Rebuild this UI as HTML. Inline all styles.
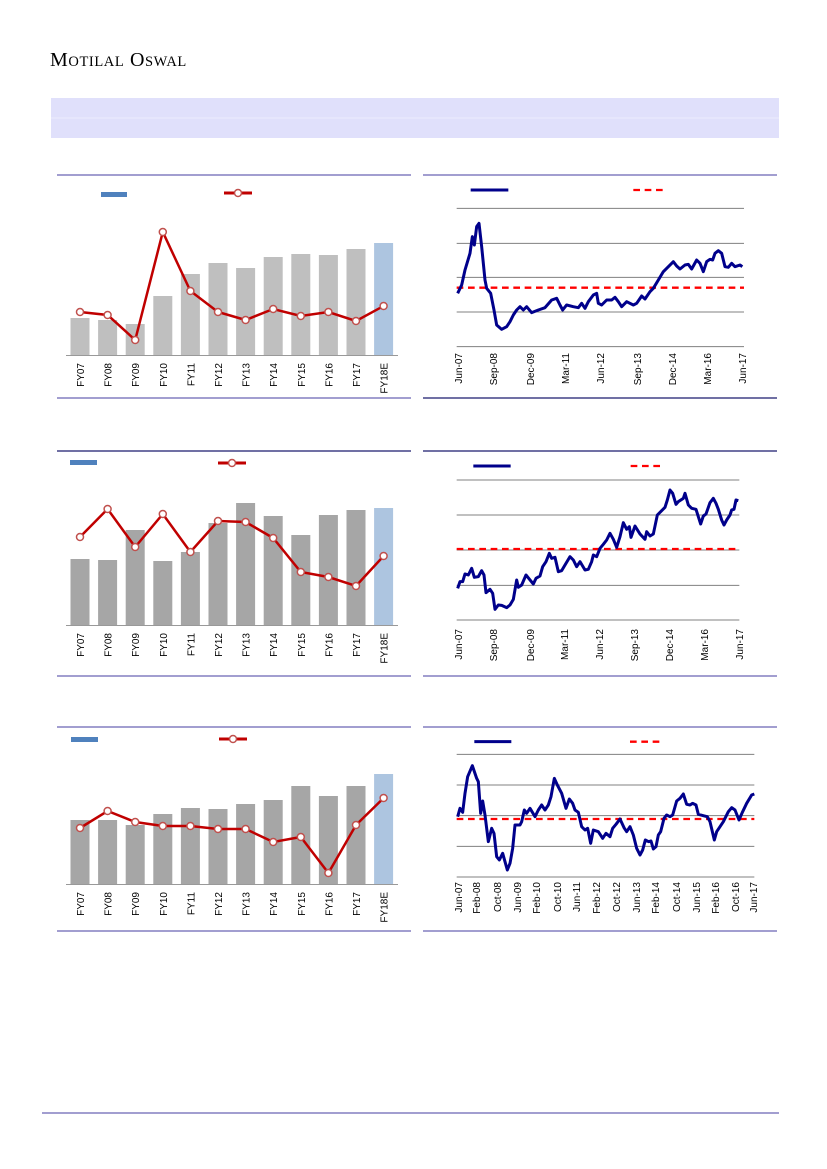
<!DOCTYPE html>
<html><head><meta charset="utf-8"><style>
html,body{margin:0;padding:0;background:#fff}
svg{display:block}
text{font-family:"Liberation Sans",sans-serif;font-size:10px;fill:#000}
</style></head><body>
<svg width="827" height="1169" viewBox="0 0 827 1169" xmlns="http://www.w3.org/2000/svg">
<text x="50" y="66" style="font-family:'Liberation Serif',serif;font-size:20px;letter-spacing:0.6px">M<tspan style="font-size:14.5px">OTILAL</tspan> O<tspan style="font-size:14.5px">SWAL</tspan></text>
<rect x="51" y="98" width="728" height="40" fill="#e0e0fb"/>
<line x1="51" y1="118" x2="779" y2="118" stroke="#ececfd" stroke-width="1"/>

<g stroke-width="1.3">
<line x1="57" y1="175" x2="411" y2="175" stroke="#6b63b5"/>
<line x1="423" y1="175" x2="777" y2="175" stroke="#6b63b5"/>
<line x1="57" y1="398" x2="411" y2="398" stroke="#6b63b5"/>
<line x1="423" y1="398" x2="777" y2="398" stroke="#1a1a6e"/>
<line x1="57" y1="451" x2="411" y2="451" stroke="#1a1a6e"/>
<line x1="423" y1="451" x2="777" y2="451" stroke="#1a1a6e"/>
<line x1="57" y1="676" x2="411" y2="676" stroke="#6b63b5"/>
<line x1="423" y1="676" x2="777" y2="676" stroke="#6b63b5"/>
<line x1="57" y1="727" x2="411" y2="727" stroke="#6b63b5"/>
<line x1="423" y1="727" x2="777" y2="727" stroke="#6b63b5"/>
<line x1="57" y1="931" x2="411" y2="931" stroke="#6b63b5"/>
<line x1="423" y1="931" x2="777" y2="931" stroke="#6b63b5"/>
<line x1="42" y1="1113" x2="779" y2="1113" stroke="#6b63b5"/>
</g>

<rect x="101" y="192" width="26" height="5" fill="#4f81bd"/>
<line x1="224" y1="193" x2="252" y2="193" stroke="#c00000" stroke-width="3"/>
<circle cx="238" cy="193" r="3.5" fill="#fff" stroke="#c0504d" stroke-width="1.5"/>
<g fill="#bfbfbf">
<rect x="70.5" y="318" width="19" height="37"/>
<rect x="98.1" y="320" width="19" height="35"/>
<rect x="125.7" y="324" width="19" height="31"/>
<rect x="153.3" y="296" width="19" height="59"/>
<rect x="180.9" y="274" width="19" height="81"/>
<rect x="208.5" y="263" width="19" height="92"/>
<rect x="236.1" y="268" width="19" height="87"/>
<rect x="263.7" y="257" width="19" height="98"/>
<rect x="291.3" y="254" width="19" height="101"/>
<rect x="318.9" y="255" width="19" height="100"/>
<rect x="346.5" y="249" width="19" height="106"/>
<rect x="374.1" y="243" width="19" height="112" fill="#adc5e0"/>
</g>
<line x1="66" y1="355.5" x2="398" y2="355.5" stroke="#999" stroke-width="1"/>
<polyline fill="none" stroke="#c00000" stroke-width="2.5" points="80,312 107.6,315 135.2,340 162.8,232 190.4,291 218,312 245.6,320 273.2,309 300.8,316 328.4,312 356,321 383.6,306"/>
<g fill="#fff" stroke="#c0504d" stroke-width="1.5">
<circle cx="80" cy="312" r="3.5"/><circle cx="107.6" cy="315" r="3.5"/><circle cx="135.2" cy="340" r="3.5"/><circle cx="162.8" cy="232" r="3.5"/><circle cx="190.4" cy="291" r="3.5"/><circle cx="218" cy="312" r="3.5"/><circle cx="245.6" cy="320" r="3.5"/><circle cx="273.2" cy="309" r="3.5"/><circle cx="300.8" cy="316" r="3.5"/><circle cx="328.4" cy="312" r="3.5"/><circle cx="356" cy="321" r="3.5"/><circle cx="383.6" cy="306" r="3.5"/>
</g>
<g text-anchor="end">
<text transform="translate(84,363) rotate(-90)">FY07</text>
<text transform="translate(111.6,363) rotate(-90)">FY08</text>
<text transform="translate(139.2,363) rotate(-90)">FY09</text>
<text transform="translate(166.8,363) rotate(-90)">FY10</text>
<text transform="translate(194.4,363) rotate(-90)">FY11</text>
<text transform="translate(222,363) rotate(-90)">FY12</text>
<text transform="translate(249.6,363) rotate(-90)">FY13</text>
<text transform="translate(277.2,363) rotate(-90)">FY14</text>
<text transform="translate(304.8,363) rotate(-90)">FY15</text>
<text transform="translate(332.4,363) rotate(-90)">FY16</text>
<text transform="translate(360,363) rotate(-90)">FY17</text>
<text transform="translate(387.6,363) rotate(-90)">FY18E</text>
</g>

<rect x="70" y="460" width="27" height="5" fill="#4f81bd"/>
<line x1="218" y1="463" x2="246" y2="463" stroke="#c00000" stroke-width="3"/>
<circle cx="232" cy="463" r="3.5" fill="#fff" stroke="#c0504d" stroke-width="1.5"/>
<g fill="#a6a6a6">
<rect x="70.5" y="559" width="19" height="66"/>
<rect x="98.1" y="560" width="19" height="65"/>
<rect x="125.7" y="530" width="19" height="95"/>
<rect x="153.3" y="561" width="19" height="64"/>
<rect x="180.9" y="552" width="19" height="73"/>
<rect x="208.5" y="523" width="19" height="102"/>
<rect x="236.1" y="503" width="19" height="122"/>
<rect x="263.7" y="516" width="19" height="109"/>
<rect x="291.3" y="535" width="19" height="90"/>
<rect x="318.9" y="515" width="19" height="110"/>
<rect x="346.5" y="510" width="19" height="115"/>
<rect x="374.1" y="508" width="19" height="117" fill="#adc5e0"/>
</g>
<line x1="66" y1="625.5" x2="398" y2="625.5" stroke="#999" stroke-width="1"/>
<polyline fill="none" stroke="#c00000" stroke-width="2.5" points="80,537 107.6,509 135.2,547 162.8,514 190.4,552 218,521 245.6,522 273.2,538 300.8,572 328.4,577 356,586 383.6,556"/>
<g fill="#fff" stroke="#c0504d" stroke-width="1.5">
<circle cx="80" cy="537" r="3.5"/><circle cx="107.6" cy="509" r="3.5"/><circle cx="135.2" cy="547" r="3.5"/><circle cx="162.8" cy="514" r="3.5"/><circle cx="190.4" cy="552" r="3.5"/><circle cx="218" cy="521" r="3.5"/><circle cx="245.6" cy="522" r="3.5"/><circle cx="273.2" cy="538" r="3.5"/><circle cx="300.8" cy="572" r="3.5"/><circle cx="328.4" cy="577" r="3.5"/><circle cx="356" cy="586" r="3.5"/><circle cx="383.6" cy="556" r="3.5"/>
</g>
<g text-anchor="end">
<text transform="translate(84,633) rotate(-90)">FY07</text>
<text transform="translate(111.6,633) rotate(-90)">FY08</text>
<text transform="translate(139.2,633) rotate(-90)">FY09</text>
<text transform="translate(166.8,633) rotate(-90)">FY10</text>
<text transform="translate(194.4,633) rotate(-90)">FY11</text>
<text transform="translate(222,633) rotate(-90)">FY12</text>
<text transform="translate(249.6,633) rotate(-90)">FY13</text>
<text transform="translate(277.2,633) rotate(-90)">FY14</text>
<text transform="translate(304.8,633) rotate(-90)">FY15</text>
<text transform="translate(332.4,633) rotate(-90)">FY16</text>
<text transform="translate(360,633) rotate(-90)">FY17</text>
<text transform="translate(387.6,633) rotate(-90)">FY18E</text>
</g>

<rect x="71" y="737" width="27" height="5" fill="#4f81bd"/>
<line x1="219" y1="739" x2="247" y2="739" stroke="#c00000" stroke-width="3"/>
<circle cx="233" cy="739" r="3.5" fill="#fff" stroke="#c0504d" stroke-width="1.5"/>
<g fill="#a6a6a6">
<rect x="70.5" y="820" width="19" height="64"/>
<rect x="98.1" y="820" width="19" height="64"/>
<rect x="125.7" y="825" width="19" height="59"/>
<rect x="153.3" y="814" width="19" height="70"/>
<rect x="180.9" y="808" width="19" height="76"/>
<rect x="208.5" y="809" width="19" height="75"/>
<rect x="236.1" y="804" width="19" height="80"/>
<rect x="263.7" y="800" width="19" height="84"/>
<rect x="291.3" y="786" width="19" height="98"/>
<rect x="318.9" y="796" width="19" height="88"/>
<rect x="346.5" y="786" width="19" height="98"/>
<rect x="374.1" y="774" width="19" height="110" fill="#adc5e0"/>
</g>
<line x1="66" y1="884.5" x2="398" y2="884.5" stroke="#999" stroke-width="1"/>
<polyline fill="none" stroke="#c00000" stroke-width="2.5" points="80,828 107.6,811 135.2,822 162.8,826 190.4,826 218,829 245.6,829 273.2,842 300.8,837 328.4,873 356,825 383.6,798"/>
<g fill="#fff" stroke="#c0504d" stroke-width="1.5">
<circle cx="80" cy="828" r="3.5"/><circle cx="107.6" cy="811" r="3.5"/><circle cx="135.2" cy="822" r="3.5"/><circle cx="162.8" cy="826" r="3.5"/><circle cx="190.4" cy="826" r="3.5"/><circle cx="218" cy="829" r="3.5"/><circle cx="245.6" cy="829" r="3.5"/><circle cx="273.2" cy="842" r="3.5"/><circle cx="300.8" cy="837" r="3.5"/><circle cx="328.4" cy="873" r="3.5"/><circle cx="356" cy="825" r="3.5"/><circle cx="383.6" cy="798" r="3.5"/>
</g>
<g text-anchor="end">
<text transform="translate(84,892) rotate(-90)">FY07</text>
<text transform="translate(111.6,892) rotate(-90)">FY08</text>
<text transform="translate(139.2,892) rotate(-90)">FY09</text>
<text transform="translate(166.8,892) rotate(-90)">FY10</text>
<text transform="translate(194.4,892) rotate(-90)">FY11</text>
<text transform="translate(222,892) rotate(-90)">FY12</text>
<text transform="translate(249.6,892) rotate(-90)">FY13</text>
<text transform="translate(277.2,892) rotate(-90)">FY14</text>
<text transform="translate(304.8,892) rotate(-90)">FY15</text>
<text transform="translate(332.4,892) rotate(-90)">FY16</text>
<text transform="translate(360,892) rotate(-90)">FY17</text>
<text transform="translate(387.6,892) rotate(-90)">FY18E</text>
</g>

<g transform="translate(420,170) scale(0.33333)">
<line x1="152" y1="60" x2="265" y2="60" stroke="#00008b" stroke-width="9"/>
<line x1="640" y1="60" x2="730" y2="60" stroke="#ff0000" stroke-width="7" stroke-dasharray="20,14"/>
<g stroke="#808080" stroke-width="3">
<line x1="110" y1="115" x2="972" y2="115"/><line x1="110" y1="220" x2="972" y2="220"/><line x1="110" y1="322" x2="972" y2="322"/><line x1="110" y1="426" x2="972" y2="426"/><line x1="110" y1="530" x2="972" y2="530"/>
</g>
<line x1="110" y1="353" x2="972" y2="353" stroke="#ff0000" stroke-width="7" stroke-dasharray="20,14"/>
<polyline fill="none" stroke="#00008b" stroke-width="9" stroke-linejoin="round" points="113,370 125,345 135,300 150,250 157,200 163,225 170,170 177,160 185,230 195,330 200,355 212,370 222,420 230,465 245,478 260,470 270,455 280,435 290,420 300,410 310,420 320,410 335,428 355,420 375,413 395,390 410,385 420,405 428,420 440,405 460,410 475,413 485,400 495,415 505,395 520,375 530,370 535,400 545,405 560,390 575,390 585,382 595,395 605,410 620,395 640,405 650,400 665,378 675,387 690,365 700,355 715,330 730,305 745,290 760,275 770,288 780,297 795,285 805,283 815,297 830,270 840,280 850,305 860,275 870,268 878,270 885,250 895,242 905,250 915,290 925,292 935,280 945,290 960,285 967,290"/>
</g>
<g text-anchor="end">
<text transform="translate(462,353) rotate(-90)">Jun-07</text>
<text transform="translate(497,353) rotate(-90)">Sep-08</text>
<text transform="translate(534,353) rotate(-90)">Dec-09</text>
<text transform="translate(569,353) rotate(-90)">Mar-11</text>
<text transform="translate(604,353) rotate(-90)">Jun-12</text>
<text transform="translate(641,353) rotate(-90)">Sep-13</text>
<text transform="translate(676,353) rotate(-90)">Dec-14</text>
<text transform="translate(711,353) rotate(-90)">Mar-16</text>
<text transform="translate(746,353) rotate(-90)">Jun-17</text>
</g>

<g transform="translate(420,450) scale(0.33333)">
<line x1="160" y1="48" x2="272" y2="48" stroke="#00008b" stroke-width="9"/>
<line x1="632" y1="48" x2="722" y2="48" stroke="#ff0000" stroke-width="7" stroke-dasharray="20,14"/>
<g stroke="#808080" stroke-width="3">
<line x1="110" y1="90" x2="958" y2="90"/><line x1="110" y1="195" x2="958" y2="195"/><line x1="110" y1="300" x2="958" y2="300"/><line x1="110" y1="406" x2="958" y2="406"/><line x1="110" y1="510" x2="958" y2="510"/>
</g>
<line x1="110" y1="297" x2="958" y2="297" stroke="#ff0000" stroke-width="7" stroke-dasharray="20,14"/>
<polyline fill="none" stroke="#00008b" stroke-width="9" stroke-linejoin="round" points="113,415 120,395 128,395 135,372 145,375 155,355 163,382 175,380 185,362 192,375 198,428 210,418 218,430 225,478 235,465 245,466 260,473 270,465 280,448 290,390 295,412 305,405 318,375 330,390 340,402 348,385 360,378 368,350 378,335 388,310 395,325 405,322 415,365 425,362 435,345 450,320 460,330 470,350 480,335 495,360 505,358 515,335 520,315 530,320 540,295 550,283 560,270 570,250 580,268 590,292 600,260 610,218 620,238 628,230 633,262 645,228 660,252 675,268 680,245 690,258 700,252 712,195 722,185 735,172 742,150 750,120 758,130 768,163 775,155 790,145 795,130 805,165 815,175 828,178 835,200 842,222 850,198 858,192 870,158 880,145 888,160 895,178 905,210 912,225 920,210 930,195 935,180 942,178 948,150 955,152"/>
</g>
<g text-anchor="end">
<text transform="translate(462,629) rotate(-90)">Jun-07</text>
<text transform="translate(497,629) rotate(-90)">Sep-08</text>
<text transform="translate(534,629) rotate(-90)">Dec-09</text>
<text transform="translate(568,629) rotate(-90)">Mar-11</text>
<text transform="translate(603,629) rotate(-90)">Jun-12</text>
<text transform="translate(638,629) rotate(-90)">Sep-13</text>
<text transform="translate(673,629) rotate(-90)">Dec-14</text>
<text transform="translate(708,629) rotate(-90)">Mar-16</text>
<text transform="translate(743,629) rotate(-90)">Jun-17</text>
</g>

<g transform="translate(420,725) scale(0.33333)">
<line x1="163" y1="50" x2="274" y2="50" stroke="#00008b" stroke-width="9"/>
<line x1="630" y1="50" x2="720" y2="50" stroke="#ff0000" stroke-width="7" stroke-dasharray="20,14"/>
<g stroke="#808080" stroke-width="3">
<line x1="110" y1="88" x2="1003" y2="88"/><line x1="110" y1="180" x2="1003" y2="180"/><line x1="110" y1="272" x2="1003" y2="272"/><line x1="110" y1="364" x2="1003" y2="364"/><line x1="110" y1="456" x2="1003" y2="456"/>
</g>
<line x1="110" y1="282" x2="1003" y2="282" stroke="#ff0000" stroke-width="7" stroke-dasharray="20,14"/>
<polyline fill="none" stroke="#00008b" stroke-width="9" stroke-linejoin="round" points="113,275 120,250 128,262 135,205 143,155 157,122 170,160 175,170 182,265 188,228 195,270 205,350 215,310 222,325 230,395 238,405 248,385 255,410 262,435 270,415 278,370 285,300 300,300 305,290 313,255 320,265 330,250 345,275 355,255 365,240 375,255 385,240 393,215 403,160 412,180 425,205 438,250 448,222 458,235 465,255 475,262 485,305 495,315 503,310 512,355 520,315 535,320 548,340 558,325 570,335 578,310 588,298 600,282 612,308 620,320 630,305 640,330 650,370 660,390 668,375 676,345 686,350 693,348 700,372 708,365 715,330 722,320 732,280 740,270 750,275 758,270 770,228 780,220 790,207 800,238 810,240 818,235 828,240 835,268 850,272 862,275 870,290 883,345 890,320 900,305 910,290 925,260 935,248 945,255 957,285 968,260 980,235 995,210 1003,207"/>
</g>
<g text-anchor="end">
<text transform="translate(462,882) rotate(-90)">Jun-07</text>
<text transform="translate(480,882) rotate(-90)">Feb-08</text>
<text transform="translate(501,882) rotate(-90)">Oct-08</text>
<text transform="translate(521,882) rotate(-90)">Jun-09</text>
<text transform="translate(540,882) rotate(-90)">Feb-10</text>
<text transform="translate(561,882) rotate(-90)">Oct-10</text>
<text transform="translate(580,882) rotate(-90)">Jun-11</text>
<text transform="translate(600,882) rotate(-90)">Feb-12</text>
<text transform="translate(620,882) rotate(-90)">Oct-12</text>
<text transform="translate(640,882) rotate(-90)">Jun-13</text>
<text transform="translate(659,882) rotate(-90)">Feb-14</text>
<text transform="translate(680,882) rotate(-90)">Oct-14</text>
<text transform="translate(700,882) rotate(-90)">Jun-15</text>
<text transform="translate(719,882) rotate(-90)">Feb-16</text>
<text transform="translate(739,882) rotate(-90)">Oct-16</text>
<text transform="translate(757,882) rotate(-90)">Jun-17</text>
</g>
</svg>
</body></html>
